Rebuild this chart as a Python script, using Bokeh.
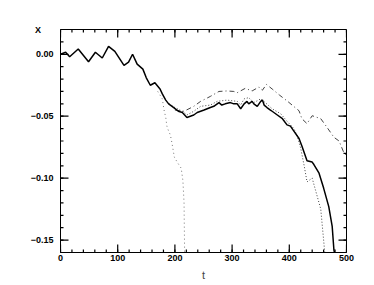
from bokeh.plotting import figure
from bokeh.models import FixedTicker, Range1d, CustomJSTickFormatter
from bokeh.embed import file_html
from bokeh.resources import INLINE

# ---- data ----
t_main = [0, 9, 16, 31, 49, 61, 73, 84, 95, 111, 119, 126, 134, 144, 150, 157,
          165, 174, 178, 184, 189, 198, 206, 213, 221, 227, 233, 239, 251, 262,
          268, 277, 282, 288, 297, 303, 309, 315, 321, 326, 329, 335, 338, 344,
          350, 353, 356, 361, 367, 370, 379, 388, 396, 402, 408, 417, 422, 431,
          440, 443, 452, 460, 469, 475, 478, 479]
x_main = [0.000, 0.0016, -0.002, 0.0043, -0.006, 0.0016, -0.003, 0.0064, 0.0024,
          -0.009, -0.0064, 0.000, -0.008, -0.012, -0.019, -0.025, -0.023, -0.028,
          -0.032, -0.037, -0.040, -0.043, -0.046, -0.047, -0.051, -0.050, -0.049,
          -0.047, -0.045, -0.043, -0.042, -0.039, -0.041, -0.040, -0.039, -0.040,
          -0.040, -0.044, -0.040, -0.038, -0.040, -0.038, -0.040, -0.042, -0.038,
          -0.037, -0.041, -0.043, -0.045, -0.046, -0.049, -0.052, -0.057, -0.058,
          -0.062, -0.068, -0.074, -0.086, -0.087, -0.089, -0.096, -0.108, -0.123,
          -0.139, -0.158, -0.160]

t_fast = [170, 178, 181, 184, 186, 189, 192, 195, 199, 204, 211, 214, 216, 216.5, 217]
x_fast = [-0.030, -0.036, -0.045, -0.051, -0.058, -0.062, -0.065, -0.072, -0.083,
          -0.087, -0.092, -0.102, -0.120, -0.140, -0.160]

t_near = [190, 200, 213, 221, 233, 245, 262, 274, 291, 309, 315, 321, 329, 338,
          350, 358, 370, 385, 396, 408, 414, 420, 426, 431, 440, 446, 455, 462]
x_near = [-0.040, -0.043, -0.046, -0.049, -0.046, -0.042, -0.041, -0.038, -0.037,
          -0.038, -0.041, -0.036, -0.035, -0.039, -0.036, -0.039, -0.044, -0.048,
          -0.054, -0.060, -0.066, -0.076, -0.090, -0.103, -0.100, -0.110, -0.125,
          -0.160]

t_dd = [200, 216, 233, 245, 262, 277, 291, 303, 309, 323, 335, 347, 353, 360, 370,
        383, 396, 417, 422, 431, 440, 455, 466, 478, 487, 495, 500]
x_dd = [-0.045, -0.046, -0.042, -0.038, -0.034, -0.030, -0.0296, -0.030, -0.031,
        -0.0275, -0.0296, -0.0264, -0.029, -0.0243, -0.028, -0.033, -0.0376,
        -0.0456, -0.052, -0.056, -0.0496, -0.052, -0.059, -0.067, -0.070, -0.079,
        -0.082]

x_major = [0, 100, 200, 300, 400, 500]
x_minor = list(range(0, 501, 20))
y_major = [-0.15, -0.10, -0.05, 0.0]
y_minor = [round(-0.16 + 0.01 * i, 2) for i in range(19)]
y_name_tick = 0.02          # the "X" variable name sits level with the top of the frame
y_name = "X"

X0, X1 = 0, 500
Y0, Y1 = -0.16, 0.02
W, H = 374, 285
BL, BR, BT, BB = 60, 28, 29, 33
FW, FH = W - BL - BR, H - BT - BB
dx = (X1 - X0) / FW
dy = (Y1 - Y0) / FH

p = figure(width=W, height=H, output_backend="svg", toolbar_location=None,
           x_range=Range1d(X0, X1), y_range=Range1d(Y0, Y1),
           min_border_left=BL, min_border_right=BR, min_border_top=BT,
           min_border_bottom=BB)
p.xgrid.grid_line_color = None
p.ygrid.grid_line_color = None
p.outline_line_color = "black"

font = "Liberation Sans"
for ax in (p.xaxis[0], p.yaxis[0]):
    ax.major_tick_in = 0
    ax.major_tick_out = 0
    ax.minor_tick_in = 0
    ax.minor_tick_out = 0
    ax.axis_line_color = "black"
    ax.major_label_text_font = font
    ax.major_label_text_font_size = "9px"
    ax.major_label_text_font_style = "bold"
    ax.major_label_text_color = "black"

xa = p.xaxis[0]
xa.ticker = FixedTicker(ticks=x_major, minor_ticks=x_minor)
xa.major_label_standoff = 2
xa.axis_label = "t"
xa.axis_label_text_font = font
xa.axis_label_text_font_size = "11px"
xa.axis_label_text_font_style = "normal"
xa.axis_label_standoff = 5

ya = p.yaxis[0]
ya.ticker = FixedTicker(ticks=y_major + [y_name_tick], minor_ticks=y_minor)
ya.major_label_standoff = 7
ya.formatter = CustomJSTickFormatter(
    args=dict(nt=y_name_tick, name=y_name),
    code="if (Math.abs(tick - nt) < 1e-9) return name + '\\u00a0\\u00a0\\u00a0\\u00a0\\u00a0';"
         "return tick.toFixed(2).replace('-', '\\u2212');")

# inward tick marks on all four sides, as thin filled bars built from the tick arrays
MAJ, MIN, TW = 8, 3, 1.2
ql, qr, qb, qt = [], [], [], []
for ticks, L in ((x_major, MAJ), (x_minor, MIN)):
    for v in ticks:
        ql += [v - TW / 2 * dx] * 2
        qr += [v + TW / 2 * dx] * 2
        qb += [Y0, Y1 - L * dy]
        qt += [Y0 + L * dy, Y1]
for ticks, L in ((y_major, MAJ), (y_minor, MIN)):
    for v in ticks:
        ql += [X0, X1 - L * dx]
        qr += [X0 + L * dx, X1]
        qb += [v - TW / 2 * dy] * 2
        qt += [v + TW / 2 * dy] * 2
p.quad(left=ql, right=qr, bottom=qb, top=qt, fill_color="black", line_color=None)

p.line(t_dd, x_dd, line_color="#444444", line_width=1, line_dash="5 3 1 3")
p.line(t_fast, x_fast, line_color="#777777", line_width=1, line_dash="1 3")
p.line(t_near, x_near, line_color="#444444", line_width=1, line_dash="1 2")
p.line(t_main, x_main, line_color="black", line_width=1.5)

open("out.html", "w").write(file_html(p, INLINE))
